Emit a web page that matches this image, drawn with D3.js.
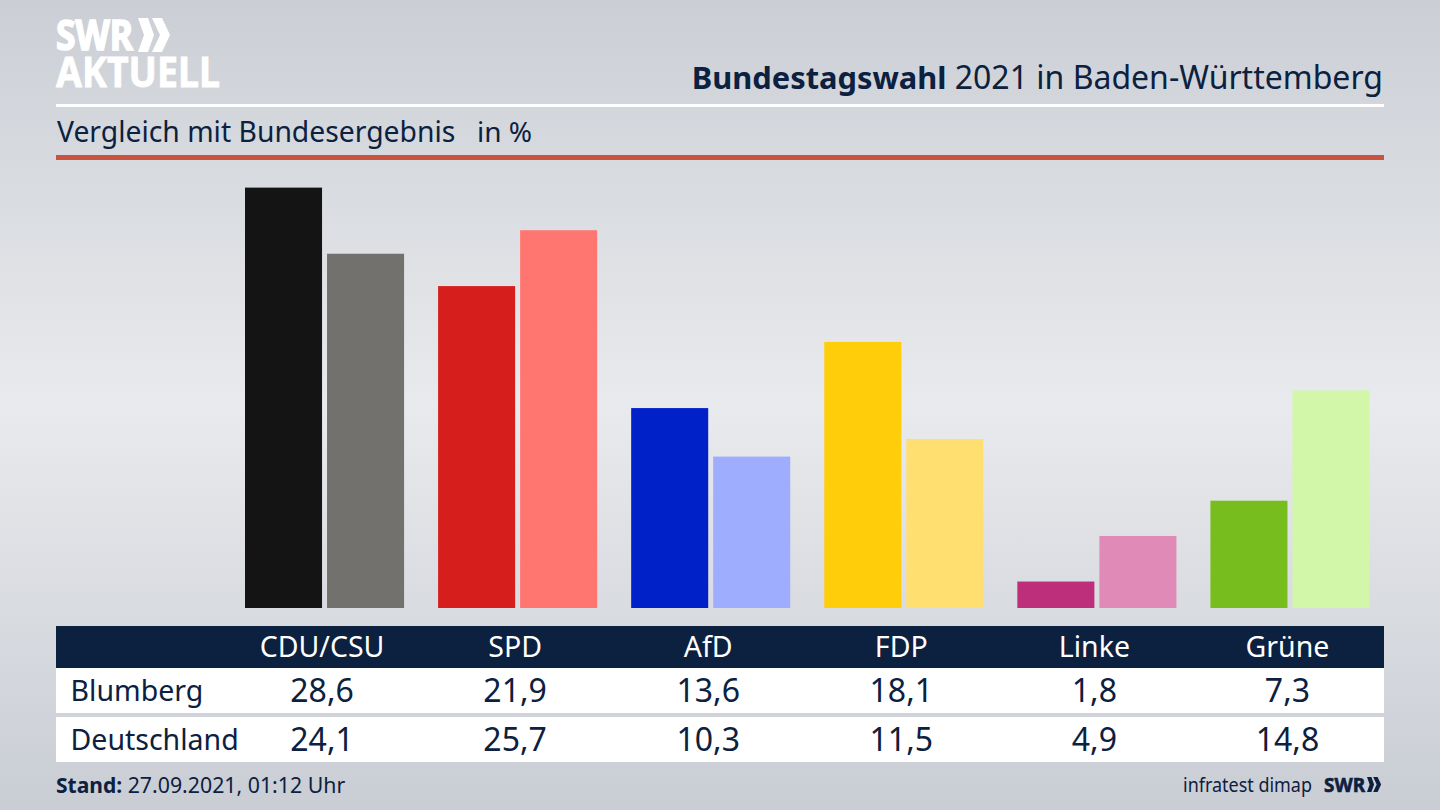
<!DOCTYPE html>
<html>
<head>
<meta charset="utf-8">
<script src="https://cdn.jsdelivr.net/npm/d3@7"></script>
<style>
  html, body { margin: 0; padding: 0; background: #d5d7dc; }
  svg { display: block; }
  text { font-family: "Noto Sans", sans-serif; fill: #0c2040; }
</style>
</head>
<body>
<div id="chart"></div>
<script>
const parties = ["CDU/CSU", "SPD", "AfD", "FDP", "Linke", "Grüne"];
const rowNames = ["Blumberg", "Deutschland"];
const blumberg = [28.6, 21.9, 13.6, 18.1, 1.8, 7.3];
const deutschland = [24.1, 25.7, 10.3, 11.5, 4.9, 14.8];
const colorsDark = ["#141414", "#d61f1c", "#0020c8", "#ffcd0a", "#bd2f7a", "#78bd1e"];
const colorsLight = ["#72716e", "#ff7570", "#9fadff", "#ffdf70", "#e08ab8", "#d2f7a8"];

const navy = "#0c2040";
const W = 1440, H = 810;
const fmt = v => v.toFixed(1).replace(".", ",");

let svg = d3.select("#chart").append("svg")
    .attr("width", W)
    .attr("height", H);

// Background
let grad = svg.append("defs").append("linearGradient")
    .attr("id", "bg")
    .attr("x1", 0).attr("x2", 0).attr("y1", 0).attr("y2", 1);
grad.append("stop").attr("offset", "0%").attr("stop-color", "#cbcfd5");
grad.append("stop").attr("offset", "50%").attr("stop-color", "#e9eaed");
grad.append("stop").attr("offset", "100%").attr("stop-color", "#c9cdd4");
svg.append("rect").attr("width", W).attr("height", H).attr("fill", "url(#bg)");

// Logo chevrons, h is the height
function chevrons(g, x, y, h, color) {
    let k = h / 34;
    [[0, 16], [14, 18]].forEach(function(c) {
        let x0 = x + c[0] * k, cw = c[1] * k, t = 10 * k;
        g.append("path")
            .attr("d", "M" + x0 + "," + y + "L" + (x0 + t) + "," + y
                + "L" + (x0 + cw) + "," + (y + h / 2)
                + "L" + (x0 + t) + "," + (y + h)
                + "L" + x0 + "," + (y + h)
                + "L" + (x0 + cw - t) + "," + (y + h / 2) + "Z")
            .attr("fill", color);
    });
}
let logo = svg.append("text")
    .attr("font-weight", 700)
    .style("fill", "#fff")
    .style("stroke", "#fff");
logo.append("tspan").attr("x", 56).attr("y", 50)
    .attr("font-size", 41).style("stroke-width", 1.6)
    .attr("textLength", 77).attr("lengthAdjust", "spacingAndGlyphs")
    .text("SWR");
logo.append("tspan").attr("x", 56).attr("y", 87)
    .attr("font-size", 41).style("stroke-width", 0.8)
    .attr("textLength", 164).attr("lengthAdjust", "spacingAndGlyphs")
    .text("AKTUELL");
chevrons(svg, 138, 18, 34, "#fff");

// Title
let title = svg.append("text").attr("x", 1383).attr("y", 89)
    .attr("text-anchor", "end");
title.append("tspan").attr("font-weight", 700).attr("font-size", 30.8).text("Bundestagswahl");
title.append("tspan").attr("font-size", 32).text(" 2021 in Baden-Württemberg");

svg.append("rect").attr("x", 56).attr("y", 104).attr("width", 1328).attr("height", 3).attr("fill", "#fff");
svg.append("text").attr("x", 57).attr("y", 142)
    .attr("font-size", 28.3).text("Vergleich mit Bundesergebnis");
svg.append("text").attr("x", 477).attr("y", 142)
    .attr("font-size", 28).text("in %");
svg.append("rect").attr("x", 56).attr("y", 155).attr("width", 1328).attr("height", 5).attr("fill", "#c8533f");

// Scales
let x = d3.scaleBand()
    .domain(parties)
    .range([245, 1369.5])
    .paddingInner(34 / 193);
let xSub = d3.scaleBand()
    .domain([0, 1])
    .range([0, x.bandwidth()])
    .paddingInner(5 / 82);
let y = d3.scaleLinear()
    .domain([0, 28.6])
    .range([608, 187.6]);

// Bars
[blumberg, deutschland].forEach(function(series, s) {
    svg.selectAll("bar" + s)
        .data(series)
        .enter()
        .append("rect")
        .attr("x", function(d, i) { return x(parties[i]) + xSub(s); })
        .attr("y", function(d) { return y(d); })
        .attr("width", xSub.bandwidth())
        .attr("height", function(d) { return y(0) - y(d); })
        .attr("fill", function(d, i) { return (s == 0 ? colorsDark : colorsLight)[i]; });
});

// Table
let labelX = function(p) { return x(p) + xSub.bandwidth(); };
svg.append("rect").attr("x", 56).attr("y", 626).attr("width", 1328).attr("height", 42).attr("fill", navy);
svg.selectAll("partyLabel")
    .data(parties)
    .enter()
    .append("text")
    .attr("x", labelX)
    .attr("y", 657)
    .attr("text-anchor", "middle")
    .attr("font-size", 28.5)
    .style("fill", "#fff")
    .text(function(d) { return d; });

let rowY = [668, 717];
let rowH = [45, 45];
[blumberg, deutschland].forEach(function(series, r) {
    svg.append("rect").attr("x", 56).attr("y", rowY[r]).attr("width", 1328).attr("height", rowH[r]).attr("fill", "#fff");
    svg.append("text").attr("x", 70.5).attr("y", rowY[r] + 33)
        .attr("font-size", 28.5).text(rowNames[r]);
    svg.selectAll("val" + r)
        .data(series)
        .enter()
        .append("text")
        .attr("x", function(d, i) { return labelX(parties[i]); })
        .attr("y", rowY[r] + 34)
        .attr("text-anchor", "middle")
        .attr("font-size", 32)
        .text(fmt);
});

// Footer
let stand = svg.append("text").attr("x", 56).attr("y", 793);
stand.append("tspan").attr("font-weight", 700).attr("font-size", 21).text("Stand:");
stand.append("tspan").attr("font-size", 21.3).text(" 27.09.2021, 01:12 Uhr");
svg.append("text").attr("x", 1183).attr("y", 792)
    .attr("font-size", 20)
    .attr("textLength", 129).attr("lengthAdjust", "spacingAndGlyphs")
    .text("infratest dimap");
svg.append("text").attr("x", 1324).attr("y", 792)
    .attr("font-size", 20).attr("font-weight", 700)
    .style("stroke", navy).style("stroke-width", 0.6)
    .attr("textLength", 41).attr("lengthAdjust", "spacingAndGlyphs").text("SWR");
chevrons(svg, 1367, 777, 15, navy);
</script>
</body>
</html>
